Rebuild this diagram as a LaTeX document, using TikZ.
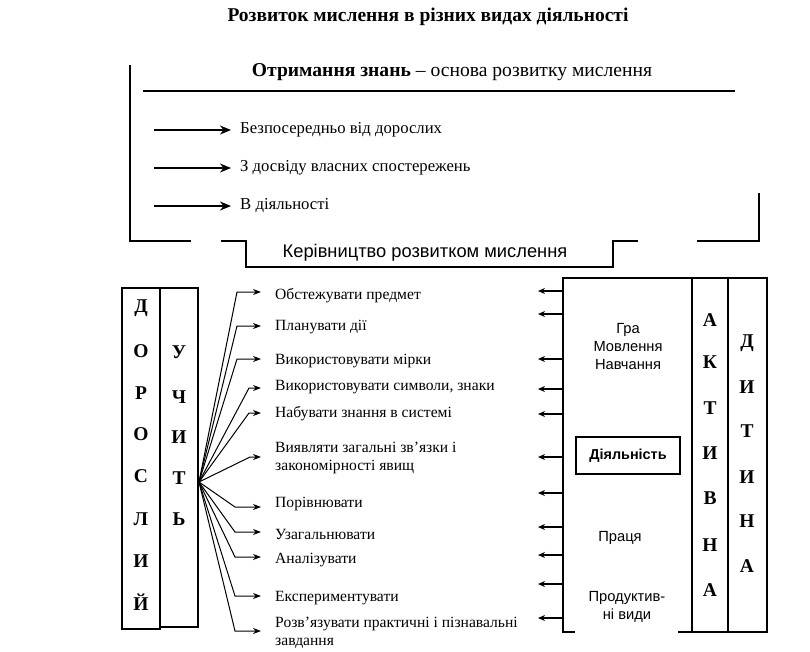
\documentclass[tikz,border=0pt]{standalone}
\usepackage{fontspec}
\setmainfont{Liberation Serif}
\setsansfont{Liberation Sans}
\usetikzlibrary{arrows.meta}
\begin{document}
\begin{tikzpicture}[x=1pt,y=-1pt,
  heavy/.style={line width=2.5pt},
  bigarrow/.style={line width=2.4pt,-{Stealth[length=11pt,width=9pt]}},
  fanline/.style={line width=1pt,-{Stealth[length=8pt,width=6pt]}},
  rarrow/.style={line width=1.3pt,-{Stealth[length=7pt,width=6pt]}},
  lbl/.style={anchor=west,inner sep=0pt,font=\fontsize{15.6}{17.5}\selectfont},
  ulbl/.style={anchor=west,inner sep=0pt,font=\fontsize{16.7}{19}\selectfont},
  letter/.style={inner sep=0pt,font=\bfseries\fontsize{19.5}{21}\selectfont},
  stxt/.style={inner sep=0pt,align=center,font=\sffamily\fontsize{14.7}{18}\selectfont}]
\useasboundingbox (0,0) rectangle (810,651);
% titles
\node[inner sep=0pt,font=\bfseries\fontsize{19.5}{22}\selectfont] (title) at (428,17) {Розвиток мислення в різних видах діяльності};
\node[inner sep=0pt,font=\fontsize{19.6}{22}\selectfont] (head) at (452,72) {\textbf{Отримання знань} – основа розвитку мислення};
% upper bracket
\draw[heavy] (130,65) -- (130,241) -- (191,241);
\draw[heavy] (221,241) -- (246,241) -- (246,267) -- (613,267) -- (613,241) -- (638,241);
\draw[heavy] (697,241) -- (759,241) -- (759,193);
\draw[line width=2.8pt] (143,91) -- (735,91);
\node[inner sep=0pt,font=\sffamily\fontsize{18.3}{21}\selectfont] (ker) at (425,253) {Керівництво розвитком мислення};
% upper arrows
\foreach \y/\t [count=\i] in {130/Безпосередньо від дорослих,168/З досвіду власних спостережень,206/В діяльності}{
  \node[ulbl] (u\i) at (240,\y) {\t};
  \coordinate (us\i) at (154,\y);
  \draw[bigarrow] (us\i) -- ([xshift=-9pt]u\i.west);
}
% left boxes
\draw[heavy] (122,288) rectangle (160,629);
\draw[heavy] (160,288) rectangle (198,627);
\foreach \l/\y [count=\i] in {Д/308,О/351,Р/393,О/434,С/476,Л/519,И/561,Й/602}
  \node[letter] (d\i) at (141,\y) {\l};
\foreach \l/\y [count=\i] in {У/352,Ч/397,И/437,Т/478,Ь/519}
  \node[letter] (uc\i) at (179,\y) {\l};
% fan
\coordinate (o) at (199,482);
\foreach \ya/\bx/\yt/\t [count=\i] in {
  292/237/296/{Обстежувати предмет},
  326/237/327/{Планувати дії},
  359/237/361/{Використовувати мірки},
  388/249/387/{Використовувати символи, знаки},
  413/249/414/{Набувати знання в системі},
  457/250/458/{Виявляти загальні зв'язки і\\закономірності явищ},
  507/235/504/{Порівнювати},
  532/235/534/{Узагальнювати},
  557/235/560/{Аналізувати},
  596/235/598/{Експериментувати},
  631/235/633/{Розв'язувати практичні і пізнавальні\\завдання}}{
  \node[lbl,align=left] (f\i) at (275,\yt) {\t};
  \coordinate (b\i) at (\bx,\ya);
  \coordinate (e\i) at (261,\ya);
  \draw[fanline] (o) -- (b\i) -- (e\i);
}
% right box
\draw[heavy] (575,632) -- (563,632) -- (563,278) -- (767,278) -- (767,632) -- (678,632);
\draw[heavy] (692,278) -- (692,632);
\draw[heavy] (728,278) -- (728,632);
\node[draw,line width=2pt,minimum width=104pt,minimum height=37pt,inner sep=0pt,
  font=\sffamily\bfseries\fontsize{14.4}{16}\selectfont] (act) at (628,455.5) {Діяльність};
\node[stxt] (gra) at (628,347) {Гра\\Мовлення\\Навчання};
\node[stxt] (pr) at (620,538) {Праця};
\node[stxt] (prod) at (627,607) {Продуктив-\\ні види};
\coordinate (rl) at (563,0);
\foreach \y [count=\i] in {291,314,359,389,414,457,493,527,555,584,618}{
  \coordinate (ra\i) at (538,\y);
  \draw[rarrow] (rl |- ra\i) -- (ra\i);
}
\foreach \l/\y [count=\i] in {А/320,К/362,Т/408,И/453,В/498,Н/545,А/590}
  \node[letter] (a\i) at (710,\y) {\l};
\foreach \l/\y [count=\i] in {Д/343,И/387,Т/431,И/477,Н/521,А/566}
  \node[letter] (c\i) at (747,\y) {\l};
\end{tikzpicture}
\end{document}
